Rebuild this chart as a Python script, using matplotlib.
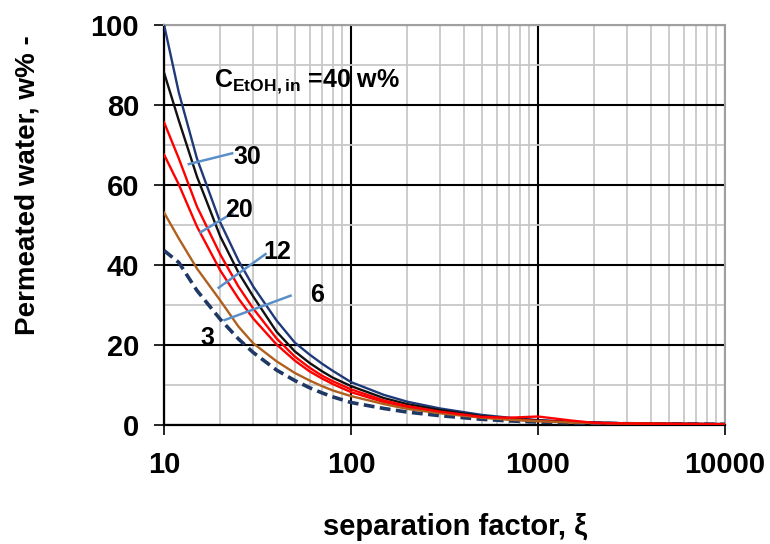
import matplotlib
matplotlib.use("Agg")
import matplotlib.pyplot as plt
from matplotlib.ticker import LogLocator, FixedLocator, NullFormatter, FixedFormatter

plt.rcParams['font.family'] = ['Liberation Sans', 'DejaVu Sans']
plt.rcParams['mathtext.fontset'] = 'custom'
plt.rcParams['mathtext.rm'] = 'Liberation Sans'
plt.rcParams['mathtext.bf'] = 'Liberation Sans:bold'

# ---- data ----
sep_factor = [10, 12, 15, 20, 25, 30, 40, 50, 60, 70, 80, 100, 150, 200, 300,
              500, 700, 1000, 1500, 2000, 3000, 5000, 10000]
w40 = [100, 83, 66.5, 50.5, 41, 34.5, 26, 20.5, 17.5, 15.2, 13.4, 10.6, 7.4, 5.7, 4.0,
       2.4, 1.7, 1.1, 0.7, 0.5, 0.3, 0.2, 0.1]
w30 = [88, 76, 62, 47, 38, 32, 23.2, 18.3, 15.4, 13.3, 11.7, 9.6, 6.6, 5.1, 3.6,
       2.1, 1.5, 1.0, 0.6, 0.45, 0.3, 0.2, 0.1]
w20 = [75.6, 66.5, 54.5, 42.5, 34.5, 29, 21.5, 17, 14.2, 12.2, 10.8, 8.8, 6.0, 4.6, 3.2,
       1.9, 1.7, 2.0, 1.0, 0.4, 0.25, 0.15, 0.08]
w12 = [67.5, 60, 49.5, 38.5, 31.5, 26.5, 20, 16, 13.3, 11.5, 10.1, 8.1, 5.6, 4.3, 3.0,
       1.8, 1.3, 0.9, 0.6, 0.4, 0.25, 0.15, 0.08]
w6_x = [10, 12, 15, 20, 25, 30, 40, 50, 60, 70, 80, 100, 150, 200, 300,
        500, 700, 1000, 1500, 2000, 3000, 5000]
w6 = [53, 46.5, 39, 31, 24.5, 20.3, 15.8, 12.9, 11.0, 9.6, 8.5, 7.1, 5.1, 3.9, 2.8,
      1.7, 1.2, 0.8, 0.5, 0.35, 0.25, 0.15]
w3 = [43.5, 40.5, 33.5, 26.3, 21.4, 18.0, 13.6, 11.0, 9.2, 7.9, 6.9, 5.5, 4.0, 3.1, 2.2,
      1.3, 0.9, 0.6, 0.4, 0.3, 0.2, 0.1, 0.05]

x_ticks = [10, 100, 1000, 10000]
x_tick_labels = ["10", "100", "1000", "10000"]
y_ticks = [0, 20, 40, 60, 80, 100]

fig = plt.figure(figsize=(7.7, 5.44), dpi=100)
ax = fig.add_axes([164/770, 1-424.5/544, (725-164)/770, 400/544])

ax.set_xscale('log')
ax.set_xlim(10, 10000)
ax.set_ylim(0, 100)

# grid
ax.xaxis.set_major_locator(FixedLocator(x_ticks))
ax.xaxis.set_major_formatter(FixedFormatter(x_tick_labels))
ax.xaxis.set_minor_locator(LogLocator(base=10, subs=range(2, 10)))
ax.xaxis.set_minor_formatter(NullFormatter())
ax.yaxis.set_major_locator(FixedLocator(y_ticks))
ax.yaxis.set_minor_locator(FixedLocator([10, 30, 50, 70, 90]))
ax.grid(which='major', color='black', lw=1.5, zorder=1)
ax.grid(which='minor', color='#c8c8c8', lw=1.3, zorder=0)
ax.set_axisbelow(True)

for s in ['top', 'right']:
    ax.spines[s].set_color('#a0a0a0')
    ax.spines[s].set_linewidth(1.5)
for s in ['left', 'bottom']:
    ax.spines[s].set_color('black')
    ax.spines[s].set_linewidth(1.6)

ax.tick_params(axis='both', which='major', direction='out', length=7, width=1.2,
               labelsize=21)
ax.tick_params(axis='x', which='major', pad=12)
ax.tick_params(axis='y', which='major', pad=11)
ax.tick_params(which='minor', length=0)
for lab in ax.get_xticklabels() + ax.get_yticklabels():
    lab.set_fontweight('bold')

# curves
ax.plot(sep_factor, w3, color='#1f3864', lw=2.6, dashes=(3.0, 1.5), zorder=3)
ax.plot(sep_factor, w40, color='#1f3a78', lw=1.7, zorder=3)
ax.plot(sep_factor, w30, color='#111111', lw=1.7, zorder=3)
ax.plot(sep_factor, w12, color='#ff0000', lw=1.7, zorder=3)
ax.plot(w6_x, w6, color='#b0601e', lw=1.7, zorder=4)
ax.plot(sep_factor, w20, color='#ff0000', lw=1.7, zorder=4)

# leader lines and labels
lead = '#5b8fc9'
ax.plot([13.57, 23.16], [65.1, 67.8], color=lead, lw=1.8, zorder=5)
ax.plot([15.67, 23.16], [48.05, 52.8], color=lead, lw=1.8, zorder=5)
ax.plot([19.6, 34.9], [34.2, 42.6], color=lead, lw=1.8, zorder=5)
ax.plot([21.07, 47.5], [26.1, 32.2], color=lead, lw=1.8, zorder=5)

tkw = dict(fontsize=18, fontweight='bold', va='center', ha='left', zorder=6)
ax.text(23.5, 66.9, "30", **tkw)
ax.text(21.3, 53.6, "20", **tkw)
ax.text(34.0, 43.2, "12", **tkw)
ax.text(60.7, 32.4, "6", **tkw)
ax.text(15.7, 21.6, "3", **tkw)
ax.text(18.4, 85.6, r"$\mathbf{C}_{\mathbf{EtOH,in}}$ =40 w%", **tkw)

fig.text(455/770, 1-527/544, "separation factor, ξ", fontsize=21, fontweight='bold',
         ha='center', va='center')
fig.text(28/770, 1-185/544, "Permeated water, w% -", fontsize=20, fontweight='bold',
         ha='center', va='center', rotation=90)

fig.savefig("out.png", dpi=100)
